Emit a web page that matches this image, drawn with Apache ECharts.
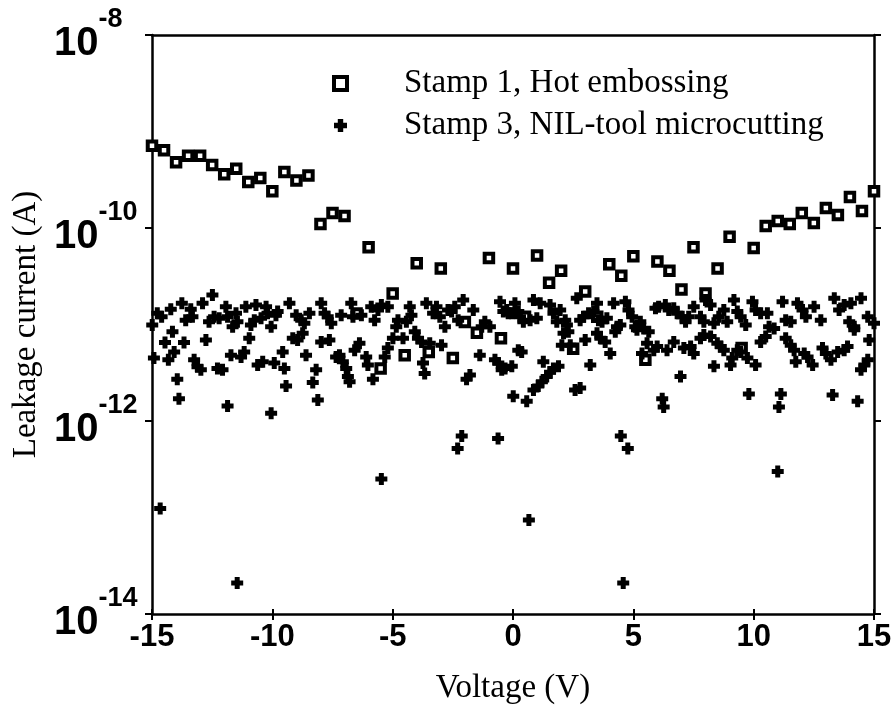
<!DOCTYPE html>
<html>
<head>
<meta charset="utf-8">
<script src="https://cdn.jsdelivr.net/npm/echarts@6/dist/echarts.min.js"></script>
<style>
html,body{margin:0;padding:0;background:#fff;}
#chart{width:896px;height:713px;}
</style>
</head>
<body>
<div id="chart"></div>
<script>
var xTicks = [-15, -10, -5, 0, 5, 10, 15];
var yTickExponents = [-14, -12, -10, -8];
var seriesNames = ['Stamp 1, Hot embossing', 'Stamp 3, NIL-tool microcutting'];

var stamp1Voltage = [-15,-14.5,-14,-13.5,-13,-12.5,-12,-11.5,-11,-10.5,-10,-9.5,-9,-8.5,-8,-7.5,-7,-6.5,-6,-5.5,-5,-4.5,-4,-3.5,-3,-2.5,-2,-1.5,-1,-0.5,0,0.5,1,1.5,2,2.5,3,3.5,4,4.5,5,5.5,6,6.5,7,7.5,8,8.5,9,9.5,10,10.5,11,11.5,12,12.5,13,13.5,14,14.5,15];
var stamp1Current = [7.1e-10,6.4e-10,4.8e-10,5.6e-10,5.6e-10,4.5e-10,3.6e-10,4.1e-10,3.0e-10,3.3e-10,2.4e-10,3.8e-10,3.1e-10,3.5e-10,1.1e-10,1.43e-10,1.33e-10,1.3e-11,6.3e-11,3.5e-12,2.1e-11,4.8e-12,4.3e-11,5.2e-12,3.8e-11,4.5e-12,1.06e-11,8.2e-12,4.9e-11,7.2e-12,3.8e-11,1.2e-11,5.2e-11,2.7e-11,3.6e-11,5.6e-12,2.2e-11,1.2e-11,4.2e-11,3.2e-11,5.1e-11,4.3e-12,4.5e-11,3.6e-11,2.3e-11,6.3e-11,2.1e-11,3.8e-11,8.1e-11,5.7e-12,6.2e-11,1.05e-10,1.18e-10,1.1e-10,1.43e-10,1.13e-10,1.61e-10,1.36e-10,2.1e-10,1.5e-10,2.4e-10];

var stamp3Points = [
[-14.99,9.9e-12],[-14.92,4.5e-12],[-14.78,1.31e-11],[-14.66,1.24e-13],[-14.6,1.2e-11],[-14.46,6.5e-12],[-14.32,4.3e-12],[-14.22,1.44e-11],[-14.15,8.4e-12],[-14.08,5.2e-12],
[-13.95,2.7e-12],[-13.88,1.7e-12],[-13.76,1.66e-11],[-13.67,6.5e-12],[-13.6,1.11e-11],[-13.39,1.44e-11],[-13.32,1.2e-11],[-13.25,4.3e-12],[-13.11,3.65e-12],[-12.97,3.4e-12],
[-12.9,1.66e-11],[-12.76,6.9e-12],[-12.63,1.07e-11],[-12.49,2.02e-11],[-12.42,1.2e-11],[-12.28,3.5e-12],[-12.21,1.16e-11],[-12.07,3.4e-12],[-11.93,1.53e-11],[-11.86,1.2e-11],
[-11.86,1.43e-12],[-11.72,4.8e-12],[-11.65,9.5e-12],[-11.51,1.31e-11],[-11.46,2.1e-14],[-11.45,1.07e-11],[-11.3,4.6e-12],[-11.17,5.2e-12],[-11.1,1.53e-11],[-10.96,7.2e-12],
[-10.89,9.9e-12],[-10.75,1.11e-11],[-10.68,1.59e-11],[-10.61,3.8e-12],[-10.47,1.16e-11],[-10.4,4.1e-12],[-10.26,1.53e-11],[-10.2,1.31e-11],[-10.05,9.5e-12],[-10.05,1.2e-12],
[-9.92,4.0e-12],[-9.85,1.25e-11],[-9.78,1.36e-11],[-9.57,5.2e-12],[-9.5,3.5e-12],[-9.43,2.3e-12],[-9.29,1.66e-11],[-9.15,7.2e-12],[-9.01,1.25e-11],[-8.95,6.9e-12],
[-8.8,1.11e-11],[-8.74,8.1e-12],[-8.67,1.03e-11],[-8.6,4.8e-12],[-8.46,1.31e-11],[-8.32,2.5e-12],[-8.18,3.4e-12],[-8.11,1.65e-12],[-7.97,1.66e-11],[-7.97,6.6e-12],
[-7.83,1.31e-11],[-7.7,1.2e-11],[-7.63,6.9e-12],[-7.55,1.03e-11],[-7.35,4.6e-12],[-7.21,4.8e-12],[-7.14,1.25e-11],[-7.07,4.1e-12],[-6.93,3.5e-12],[-6.86,2.9e-12],
[-6.79,2.55e-12],[-6.72,1.66e-11],[-6.65,1.2e-11],[-6.58,5.4e-12],[-6.38,6.4e-12],[-6.3,1.25e-11],[-6.1,4.6e-12],[-6.03,3.8e-12],[-5.89,1.53e-11],[-5.82,2.7e-12],
[-5.75,1.11e-11],[-5.61,1.41e-11],[-5.47,1.59e-11],[-5.47,2.5e-13],[-5.33,4.6e-12],[-5.2,5.7e-12],[-5.2,1.53e-11],[-4.99,7.2e-12],[-4.85,9.5e-12],[-4.78,1.11e-11],
[-4.57,7.2e-12],[-4.43,1.07e-11],[-4.29,1.53e-11],[-4.22,1.25e-11],[-4.08,8.4e-12],[-3.95,7.2e-12],[-3.8,6.6e-12],[-3.74,4.0e-12],[-3.67,3.1e-12],[-3.6,1.66e-11],
[-3.46,6.4e-12],[-3.32,1.31e-11],[-3.18,1.53e-11],[-3.04,1.2e-11],[-2.97,6.1e-12],[-2.83,9.5e-12],[-2.7,1.41e-11],[-2.55,1.36e-11],[-2.42,1.53e-11],[-2.3,5.2e-13],
[-2.28,1.11e-11],[-2.13,7.0e-13],[-2.07,1.79e-11],[-1.93,2.7e-12],[-1.79,3.0e-12],[-1.65,1.41e-11],[-1.38,4.8e-12],[-1.3,9.5e-12],[-1.17,1.07e-11],[-0.96,9.5e-12],
[-0.75,4.3e-12],[-0.62,6.6e-13],[-0.61,4.0e-12],[-0.54,1.72e-11],[-0.47,3.4e-12],[-0.4,1.36e-11],[-0.33,3.5e-12],[-0.26,1.41e-11],[-0.2,1.31e-11],[-0.05,1.31e-11],
[-0.05,3.7e-12],[0.01,1.8e-12],[0.08,1.66e-11],[0.22,1.36e-11],[0.22,5.4e-12],[0.29,1.2e-11],[0.36,5.2e-12],[0.43,1.07e-11],[0.57,1.6e-12],[0.66,9.4e-14],
[0.71,1.11e-11],[0.85,1.79e-11],[0.85,2.1e-12],[0.99,1.16e-11],[1.05,2.3e-12],[1.13,1.66e-11],[1.2,2.55e-12],[1.26,4.1e-12],[1.4,2.9e-12],[1.54,1.59e-11],
[1.54,3.2e-12],[1.68,1.31e-11],[1.68,3.5e-12],[1.82,1.07e-11],[1.89,3.7e-12],[1.96,1.41e-11],[2.03,6.1e-12],[2.1,8.1e-12],[2.17,1.11e-11],[2.24,9.9e-12],
[2.3,8.4e-12],[2.38,6.1e-12],[2.58,2.1e-12],[2.65,1.87e-11],[2.79,1.11e-11],[2.79,2.2e-12],[2.93,1.2e-11],[3.0,6.9e-12],[3.14,1.31e-11],[3.21,3.8e-12],
[3.35,1.36e-11],[3.49,1.66e-11],[3.49,8.1e-12],[3.55,1.11e-11],[3.63,7.2e-12],[3.7,1.07e-11],[3.83,6.6e-12],[3.9,1.16e-11],[4.04,5.0e-12],[4.18,1.66e-11],
[4.25,8.4e-12],[4.32,9.5e-12],[4.46,9.9e-12],[4.48,7.0e-13],[4.58,2.1e-14],[4.67,1.72e-11],[4.77,5.2e-13],[4.8,1.41e-11],[4.95,1.2e-11],[5.08,9.5e-12],
[5.15,8.8e-12],[5.29,1.07e-11],[5.36,5.0e-12],[5.43,9.1e-12],[5.57,6.4e-12],[5.64,8.4e-12],[5.85,5.4e-12],[5.92,1.47e-11],[5.99,5.9e-12],[6.05,1.53e-11],
[6.2,1.7e-12],[6.26,1.4e-12],[6.33,1.59e-11],[6.4,5.4e-12],[6.47,1.41e-11],[6.68,1.47e-11],[6.68,6.6e-12],[6.82,1.31e-11],[6.96,2.9e-12],[7.03,1.2e-11],
[7.1,5.7e-12],[7.17,1.07e-11],[7.3,1.2e-11],[7.38,5.9e-12],[7.51,1.53e-11],[7.51,5.0e-12],[7.79,1.2e-11],[7.79,7.2e-12],[7.93,1.07e-11],[7.93,7.8e-12],
[8.0,1.79e-11],[8.21,1.59e-11],[8.21,7.5e-12],[8.35,1.03e-11],[8.35,3.7e-12],[8.49,6.4e-12],[8.55,1.2e-11],[8.63,5.9e-12],[8.76,1.41e-11],[8.76,5.4e-12],
[8.9,1.07e-11],[9.04,3.8e-12],[9.11,4.5e-12],[9.18,1.79e-11],[9.32,1.36e-11],[9.32,5.4e-12],[9.46,1.2e-11],[9.46,5.2e-12],[9.67,9.9e-12],[9.74,4.5e-12],
[9.8,1.9e-12],[9.95,1.72e-11],[10.08,1.41e-11],[10.08,3.8e-12],[10.29,1.31e-11],[10.29,6.6e-12],[10.5,7.5e-12],[10.57,1.31e-11],[10.64,9.5e-12],[10.85,9.1e-12],
[11.0,3.0e-13],[11.05,1.4e-12],[11.13,1.9e-12],[11.2,1.72e-11],[11.33,1.11e-11],[11.33,7.2e-12],[11.54,1.07e-11],[11.54,6.1e-12],[11.68,5.4e-12],[11.75,4.1e-12],
[11.82,1.66e-11],[12.03,1.41e-11],[12.1,5.0e-12],[12.17,1.2e-11],[12.24,4.6e-12],[12.45,3.8e-12],[12.51,1.53e-11],[12.79,1.11e-11],[12.86,5.7e-12],[13.0,5.0e-12],
[13.21,4.3e-12],[13.28,1.86e-12],[13.35,1.87e-11],[13.49,5.2e-12],[13.55,1.41e-11],[13.76,1.59e-11],[13.76,5.4e-12],[13.9,5.9e-12],[13.97,1.07e-11],[14.04,1.66e-11],
[14.18,9.5e-12],[14.18,8.8e-12],[14.32,1.6e-12],[14.46,1.87e-11],[14.46,3.4e-12],[14.6,3.8e-12],[14.74,1.2e-11],[14.74,4.3e-12],[14.8,6.9e-12],[15.0,1.03e-11]
];

var stamp1Data = stamp1Voltage.map(function (v, i) { return [v, stamp1Current[i]]; });

var plusPath = 'path://M3.5,0H8.5V3.5H12V8.5H8.5V12H3.5V8.5H0V3.5H3.5Z';
var sansBold = { fontFamily: 'Liberation Sans', fontWeight: 'bold', color: '#000' };
var squareStyle = { color: '#fff', borderColor: '#000', borderWidth: 4, opacity: 1 };
var crossStyle = { color: '#000', opacity: 1, borderWidth: 0 };

var chart = echarts.init(document.getElementById('chart'), null, { renderer: 'canvas' });
chart.setOption({
  backgroundColor: '#fff',
  animation: false,
  grid: { left: 152, right: 22, top: 35, bottom: 99 },
  legend: {
    orient: 'vertical',
    left: 327,
    top: 62,
    itemGap: 9,
    itemWidth: 13,
    itemHeight: 13,
    data: [
      { name: seriesNames[0], icon: 'rect', itemStyle: squareStyle },
      { name: seriesNames[1], icon: plusPath, itemStyle: crossStyle }
    ],
    textStyle: { fontFamily: 'Liberation Serif', fontSize: 33, color: '#000', padding: [0, 0, 0, 52] }
  },
  xAxis: [{
    type: 'value', min: -15, max: 15, interval: 5,
    name: 'Voltage (V)', nameLocation: 'middle', nameGap: 58,
    nameTextStyle: { fontFamily: 'Liberation Serif', fontSize: 33, color: '#000' },
    axisLine: { onZero: false, lineStyle: { color: '#000', width: 2.5 } },
    axisTick: { show: true, length: 6, lineStyle: { color: '#000', width: 2 } },
    axisLabel: Object.assign({ fontSize: 31, margin: 8, formatter: function (v) { return xTicks.indexOf(v) >= 0 ? String(v) : ''; } }, sansBold),
    splitLine: { show: false }
  }, {
    type: 'value', min: -15, max: 15, interval: 5, position: 'top',
    axisLine: { onZero: false, lineStyle: { color: '#000', width: 2.5 } },
    axisTick: { show: false }, axisLabel: { show: false }, splitLine: { show: false }
  }, {
    type: 'value', min: -15, max: 15, interval: 5, position: 'bottom',
    axisLine: { show: false, onZero: false },
    axisTick: { show: true, inside: true, length: 5, lineStyle: { color: '#000', width: 2 } },
    axisLabel: { show: false }, splitLine: { show: false }
  }],
  yAxis: [{
    type: 'log', logBase: 10, min: 1e-14, max: 1e-8, interval: 2,
    name: 'Leakage current (A)', nameLocation: 'middle', nameGap: 100,
    nameTextStyle: { fontFamily: 'Liberation Serif', fontSize: 33, color: '#000' },
    axisLine: { show: true, onZero: false, lineStyle: { color: '#000', width: 2.5 } },
    axisTick: { show: true, length: 7, lineStyle: { color: '#000', width: 2 } },
    minorTick: { show: false },
    axisLabel: {
      margin: 98,
      align: 'left',
      formatter: function (v) {
        var e = Math.round(Math.log10(v));
        return yTickExponents.indexOf(e) >= 0 ? '{b|10}{s|' + e + '}' : '';
      },
      rich: {
        b: { fontFamily: 'Liberation Sans', fontWeight: 'bold', fontSize: 40, color: '#000', padding: [18, 0, 0, 0] },
        s: { fontFamily: 'Liberation Sans', fontWeight: 'bold', fontSize: 27, color: '#000', padding: [0, 0, 30, 0] }
      }
    },
    splitLine: { show: false }
  }, {
    type: 'log', logBase: 10, min: 1e-14, max: 1e-8, interval: 2, position: 'right',
    axisLine: { show: true, onZero: false, lineStyle: { color: '#000', width: 2.5 } },
    axisTick: { show: true, length: 7, lineStyle: { color: '#000', width: 2 } },
    axisLabel: { show: false }, splitLine: { show: false }
  }],
  series: [{
    name: seriesNames[0],
    type: 'scatter',
    data: stamp1Data,
    symbol: 'rect',
    symbolSize: 8.5,
    itemStyle: squareStyle,
    z: 2
  }, {
    name: seriesNames[1],
    type: 'scatter',
    data: stamp3Points,
    symbol: plusPath,
    symbolSize: 12,
    itemStyle: crossStyle,
    z: 3
  }]
});
</script>
</body>
</html>
